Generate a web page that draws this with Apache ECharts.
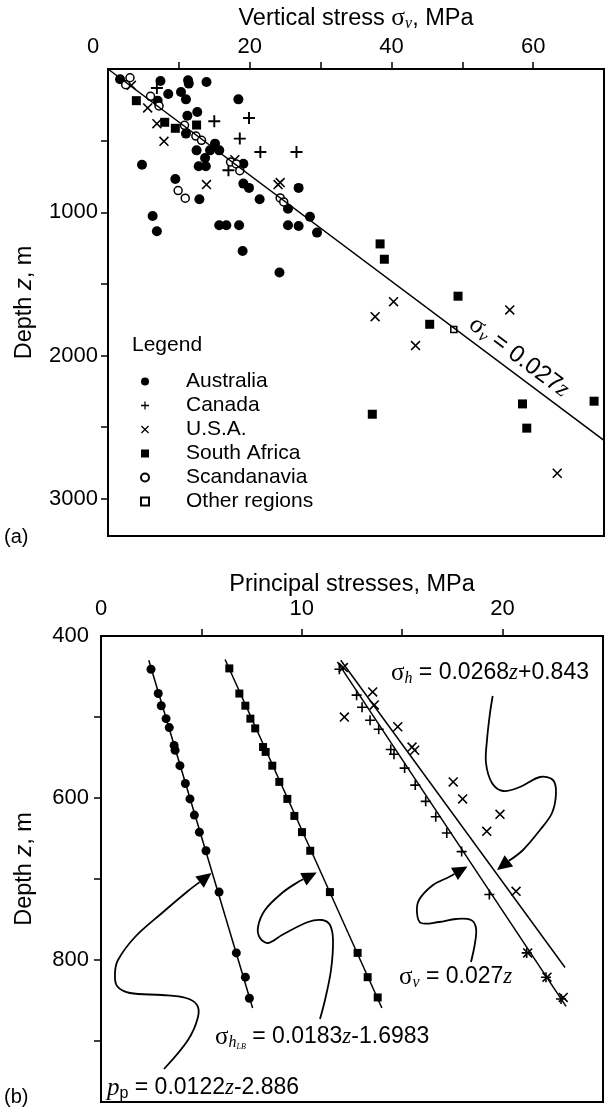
<!DOCTYPE html>
<html>
<head>
<meta charset="utf-8">
<script src="https://cdn.jsdelivr.net/npm/echarts/dist/echarts.min.js"></script>
<style>
  html, body { margin: 0; padding: 0; background: #fff; }
  #main { width: 606px; height: 1111px; }
</style>
</head>
<body>
<div id="main"></div>
<script>
// (a) vertical stress vs depth, [MPa, depth m]
const australia = [[1.7,72],[7.4,84],[11.3,79],[11.4,102],[13.9,91],[8.5,174],[10.3,160],[11.0,212],[7.0,221],[18.4,212],
  [12.6,300],[11.2,326],[11.0,451],[15.1,521],[15.7,568],[14.4,568],[12.5,568],[13.7,621],[12.8,679],[13.8,679],
  [19.1,661],[4.8,668],[9.5,768],[19.1,800],[19.9,830],[26.9,830],[12.9,909],[21.4,909],[25.4,975],[6.3,1026],
  [6.9,1133],[15.7,1091],[16.7,1091],[18.5,1091],[25.4,1091],[26.9,1096],[28.5,1031],[29.5,1142],[19.0,1270],[24.2,1421]];
const canada = [[6.9,133],[15.0,365],[19.9,342],[18.6,486],[21.5,579],[26.6,579],[17.0,707]];
const usa = [[3.3,114],[5.6,272],[6.9,382],[7.9,505],[17.9,633],[13.9,807],[24.0,807],[24.3,793],
  [40.3,1624],[37.7,1729],[43.4,1931],[56.7,1682],[63.4,2822]];
const southAfrica = [[4.0,221],[8.0,372],[9.5,414],[12.5,391],[38.4,1221],[39.0,1328],[49.4,1586],[45.4,1782],
  [37.3,2410],[58.5,2338],[59.1,2507],[68.6,2319]];
const scandanavia = [[3.1,61],[2.5,110],[6.0,191],[7.2,258],[10.8,393],[12.4,468],[13.2,498],[17.3,649],[18.1,663],
  [18.6,710],[9.9,849],[10.9,902],[24.3,900],[24.8,928]];
const otherRegions = [[48.8,1819]];
const svLineA = [[0,0],[70,2593]];

const xTicksA = [10,20,30,40,50,60];
const xLabelsA = [0,20,40,60];
const yTicksA = [500,1000,1500,2000,2500,3000];
const yLabelsA = [1000,2000,3000];

// (b) principal stresses vs depth, [MPa, depth m]
const ppPts = [[2.49,441],[2.85,471],[3.0,486],[3.24,502],[3.40,513],[3.64,535],[3.69,541],[3.93,560],[4.20,582],
  [4.43,601],[4.65,621],[4.90,642],[5.23,665],[5.88,716],[6.74,791],[7.19,821],[7.39,847]];
const shLBPts = [[6.39,440],[6.89,471],[7.19,486],[7.44,502],[7.68,514],[8.07,537],[8.20,543],[8.53,560],[8.88,580],
  [9.28,601],[9.63,622],[10.01,642],[10.42,665],[11.40,716],[12.78,791],[13.28,821],[13.78,846]];
const svPts = [[11.87,441],[12.73,473],[13.0,488],[13.40,504],[13.83,515],[14.43,540],[14.59,546],[15.12,563],
  [15.65,584],[16.17,604],[16.67,623],[17.22,643],[17.96,666],[19.34,719],[21.2,791],[22.16,821],[22.91,848]];
const shPts = [[12.07,439],[13.53,469],[13.61,485],[12.12,500],[14.78,512],[15.49,537],[15.62,541],[17.54,580],
  [18.01,601],[19.87,620],[19.21,641],[20.67,715],[21.25,791],[22.21,821],[23.02,846]];
const ppLine = [[2.38,430],[7.55,859]];
const shLBLine = [[6.18,429],[13.99,859]];
const svLine = [[11.77,432],[23.16,857]];
const shLine = [[11.94,430],[23.11,809]];

const xTicksB = [5,10,15,20];
const xLabelsB = [0,10,20];
const yTicksB = [500,600,700,800,900];
const yLabelsB = [400,600,800];

const SANS = "'Liberation Sans', Arial, sans-serif";
const SERIF = "'Liberation Serif', 'Times New Roman', serif";
const PLUS = 'path://M4.2,0H5.8V10H4.2Z M0,4.2H10V5.8H0Z';
const CROSS = 'path://M0,1.1L1.1,0L10,8.9L8.9,10Z M8.9,0L10,1.1L1.1,10L0,8.9Z';

function rich(size) {
  return {
    t: { fontFamily: SANS, fontSize: size, lineHeight: size + 4, color: '#000', fill: '#000' },
    g: { fontFamily: SERIF, fontSize: size + 2, lineHeight: size + 4, color: '#000', fill: '#000' },
    s: { fontFamily: SERIF, fontStyle: 'italic', fontSize: Math.round(size * 0.7), lineHeight: Math.round(size * 0.7) + 2,
         verticalAlign: 'bottom', color: '#000', fill: '#000' },
    u: { fontFamily: SANS, fontSize: Math.round(size * 0.7), lineHeight: Math.round(size * 0.7) + 2,
         verticalAlign: 'bottom', color: '#000', fill: '#000' },
    z: { fontFamily: SERIF, fontStyle: 'italic', fontSize: size, lineHeight: size + 4, color: '#000', fill: '#000' },
    i: { fontFamily: SANS, fontStyle: 'italic', fontSize: size, lineHeight: size + 4, color: '#000', fill: '#000' },
    p: { fontFamily: SERIF, fontStyle: 'italic', fontSize: size + 2, lineHeight: size + 4, color: '#000', fill: '#000' },
    tiny: { fontFamily: SERIF, fontStyle: 'italic', fontSize: 8, lineHeight: 16, verticalAlign: 'bottom', color: '#000', fill: '#000' }
  };
}

function axis(grid, opts) {
  return Object.assign({
    gridIndex: grid,
    type: 'value',
    nameLocation: 'middle',
    nameTextStyle: { rich: rich(23.5) },
    axisLine: { show: true, lineStyle: { color: '#000', width: 2 } },
    splitLine: { show: false }
  }, opts);
}

function ticks(values) {
  return { show: true, length: 7, customValues: values, lineStyle: { color: '#000', width: 1.5 } };
}

function label(values, margin, extra) {
  return Object.assign({
    customValues: values, margin: margin, color: '#000', fontSize: 22, fontFamily: SANS,
    formatter: v => String(v)
  }, extra || {});
}

// annotation arrows in (b): traced pixel paths, arrowhead added at tip
const arrowPaths = [
  { pts: [[164,1069],[188,1040],[198,1017],[197,1005],[186,998],[162,995],[130,993],[117,986],[115,973],[118,960],[135,937],[162,913],[188,891]], tip: [211.5,873] },
  { pts: [[320,1019],[325,1000],[331,970],[333,940],[330,925],[322,920],[308,922],[282,935],[268,943],[260,938],[258,927],[265,910],[282,893],[298,882]], tip: [316.7,872.5] },
  { pts: [[471,962],[475,943],[476,928],[471,920],[456,919],[439,922],[421,923],[417,913],[419,900],[433,885],[449,877]], tip: [467.5,866.5] },
  { pts: [[492.7,696],[490,713],[487,740],[486,763],[492,783],[503,791],[520,787],[540,777],[553,780],[556,793],[552,813],[540,830],[523,850]], tip: [497,870] }
];

function arrowEls(a) {
  const last = a.pts[a.pts.length - 1];
  const dx = a.tip[0] - last[0], dy = a.tip[1] - last[1];
  const len = Math.hypot(dx, dy);
  const ux = dx / len, uy = dy / len;
  const hl = 15, hw = 7;
  const bx = a.tip[0] - ux * hl, by = a.tip[1] - uy * hl;
  return [
    { type: 'polyline', silent: true, shape: { points: a.pts.concat([[bx, by]]), smooth: 0.35 },
      style: { stroke: '#000', lineWidth: 1.8, fill: null } },
    { type: 'polygon', silent: true, shape: { points: [a.tip, [bx - uy * hw, by + ux * hw], [bx + uy * hw, by - ux * hw]] },
      style: { fill: '#000' } }
  ];
}

function txt(x, y, text, size, extra) {
  return Object.assign({
    type: 'text', x: x, y: y, silent: true,
    style: { text: text, rich: rich(size), fill: '#000', font: size + 'px ' + SANS, align: 'left', verticalAlign: 'middle' }
  }, extra || {});
}

let graphics = [
  txt(132, 345, '{t|Legend}', 21),
  txt(4, 537, '{t|(a)}', 20),
  txt(4, 1097, '{t|(b)}', 20),
  txt(519, 357, '{g|σ}{s|v}{t| = 0.027}{z|z}', 24, { rotation: -0.642 }),
  txt(391, 673, '{g|σ}{s|h}{t| = 0.0268}{z|z}{t|+0.843}', 23),
  txt(399, 977, '{g|σ}{s|v}{t| = 0.027}{z|z}', 23),
  txt(215, 1037, '{g|σ}{s|h}{tiny|LB}{t| = 0.0183}{z|z}{t|-1.6983}', 23),
  txt(107, 1088, '{p|p}{u|p}{t| = 0.0122}{z|z}{t|-2.886}', 23)
];
graphics[3].style.align = 'center';
arrowPaths.forEach(a => { graphics = graphics.concat(arrowEls(a)); });

const chart = echarts.init(document.getElementById('main'), null, { renderer: 'canvas' });

const black = { color: '#000', opacity: 1 };
const hollow = { color: '#fff', borderColor: '#000', borderWidth: 1.5, opacity: 1 };
const stroke = { color: '#000', width: 1.5 };

chart.setOption({
  animation: false,
  backgroundColor: '#fff',
  textStyle: { fontFamily: SANS, color: '#000' },
  grid: [
    { left: 108, top: 69, width: 496, height: 467, show: true, borderColor: '#000', borderWidth: 2, outerBoundsMode: 'none' },
    { left: 101, top: 636, width: 502, height: 466, show: true, borderColor: '#000', borderWidth: 2, outerBoundsMode: 'none' }
  ],
  xAxis: [
    axis(0, {
      position: 'top', min: 0, max: 70,
      name: '{t|Vertical stress }{g|σ}{s|v}{t|, MPa}', nameGap: 37,
      axisTick: ticks(xTicksA),
      axisLabel: label(xLabelsA, 11, {
        formatter: v => v === 0 ? '{o|0}' : String(v),
        rich: { o: { padding: [0, 30, 0, 0], fontSize: 22, fontFamily: SANS, color: '#000' } }
      })
    }),
    axis(1, {
      position: 'top', min: 0, max: 25,
      name: '{t|Principal stresses, MPa}', nameGap: 38,
      axisTick: ticks(xTicksB),
      axisLabel: label(xLabelsB, 16)
    })
  ],
  yAxis: [
    axis(0, {
      inverse: true, min: 0, max: 3260,
      name: '{t|Depth }{i|z}{t|, m}', nameGap: 70,
      axisTick: ticks(yTicksA),
      axisLabel: label(yLabelsA, 10)
    }),
    axis(1, {
      inverse: true, min: 400, max: 975,
      name: '{t|Depth }{i|z}{t|, m}', nameGap: 63,
      axisTick: ticks(yTicksB),
      axisLabel: label(yLabelsB, 12)
    })
  ],
  legend: {
    data: ['Australia', 'Canada', 'U.S.A.', 'South Africa', 'Scandanavia', 'Other regions'],
    orient: 'vertical', left: 135, top: 366,
    itemWidth: 8, itemHeight: 8, itemGap: 3,
    symbolKeepAspect: true, selectedMode: false,
    textStyle: { fontSize: 21, color: '#000', fontFamily: SANS, padding: [0, 0, 0, 32] }
  },
  graphic: graphics,
  series: [
    { name: 'sv-a', type: 'line', xAxisIndex: 0, yAxisIndex: 0, data: svLineA, symbol: 'none', lineStyle: stroke, silent: true },
    { name: 'Australia', type: 'scatter', xAxisIndex: 0, yAxisIndex: 0, data: australia, symbol: 'circle', symbolSize: 10, itemStyle: black },
    { name: 'Canada', type: 'scatter', xAxisIndex: 0, yAxisIndex: 0, data: canada, symbol: PLUS, symbolSize: 12, itemStyle: black },
    { name: 'U.S.A.', type: 'scatter', xAxisIndex: 0, yAxisIndex: 0, data: usa, symbol: CROSS, symbolSize: 10, itemStyle: black },
    { name: 'South Africa', type: 'scatter', xAxisIndex: 0, yAxisIndex: 0, data: southAfrica, symbol: 'rect', symbolSize: 9, itemStyle: black },
    { name: 'Scandanavia', type: 'scatter', xAxisIndex: 0, yAxisIndex: 0, data: scandanavia, symbol: 'circle', symbolSize: 8, itemStyle: hollow },
    { name: 'Other regions', type: 'scatter', xAxisIndex: 0, yAxisIndex: 0, data: otherRegions, symbol: 'rect', symbolSize: 6, itemStyle: hollow },

    { name: 'pp-line', type: 'line', xAxisIndex: 1, yAxisIndex: 1, data: ppLine, symbol: 'none', lineStyle: stroke, silent: true },
    { name: 'shLB-line', type: 'line', xAxisIndex: 1, yAxisIndex: 1, data: shLBLine, symbol: 'none', lineStyle: stroke, silent: true },
    { name: 'sv-line', type: 'line', xAxisIndex: 1, yAxisIndex: 1, data: svLine, symbol: 'none', lineStyle: stroke, silent: true },
    { name: 'sh-line', type: 'line', xAxisIndex: 1, yAxisIndex: 1, data: shLine, symbol: 'none', lineStyle: stroke, silent: true },
    { name: 'pp', type: 'scatter', xAxisIndex: 1, yAxisIndex: 1, data: ppPts, symbol: 'circle', symbolSize: 9, itemStyle: black },
    { name: 'shLB', type: 'scatter', xAxisIndex: 1, yAxisIndex: 1, data: shLBPts, symbol: 'rect', symbolSize: 8, itemStyle: black },
    { name: 'sv', type: 'scatter', xAxisIndex: 1, yAxisIndex: 1, data: svPts, symbol: PLUS, symbolSize: 10, itemStyle: black },
    { name: 'sh', type: 'scatter', xAxisIndex: 1, yAxisIndex: 1, data: shPts, symbol: CROSS, symbolSize: 10, itemStyle: black }
  ]
});
</script>
</body>
</html>
